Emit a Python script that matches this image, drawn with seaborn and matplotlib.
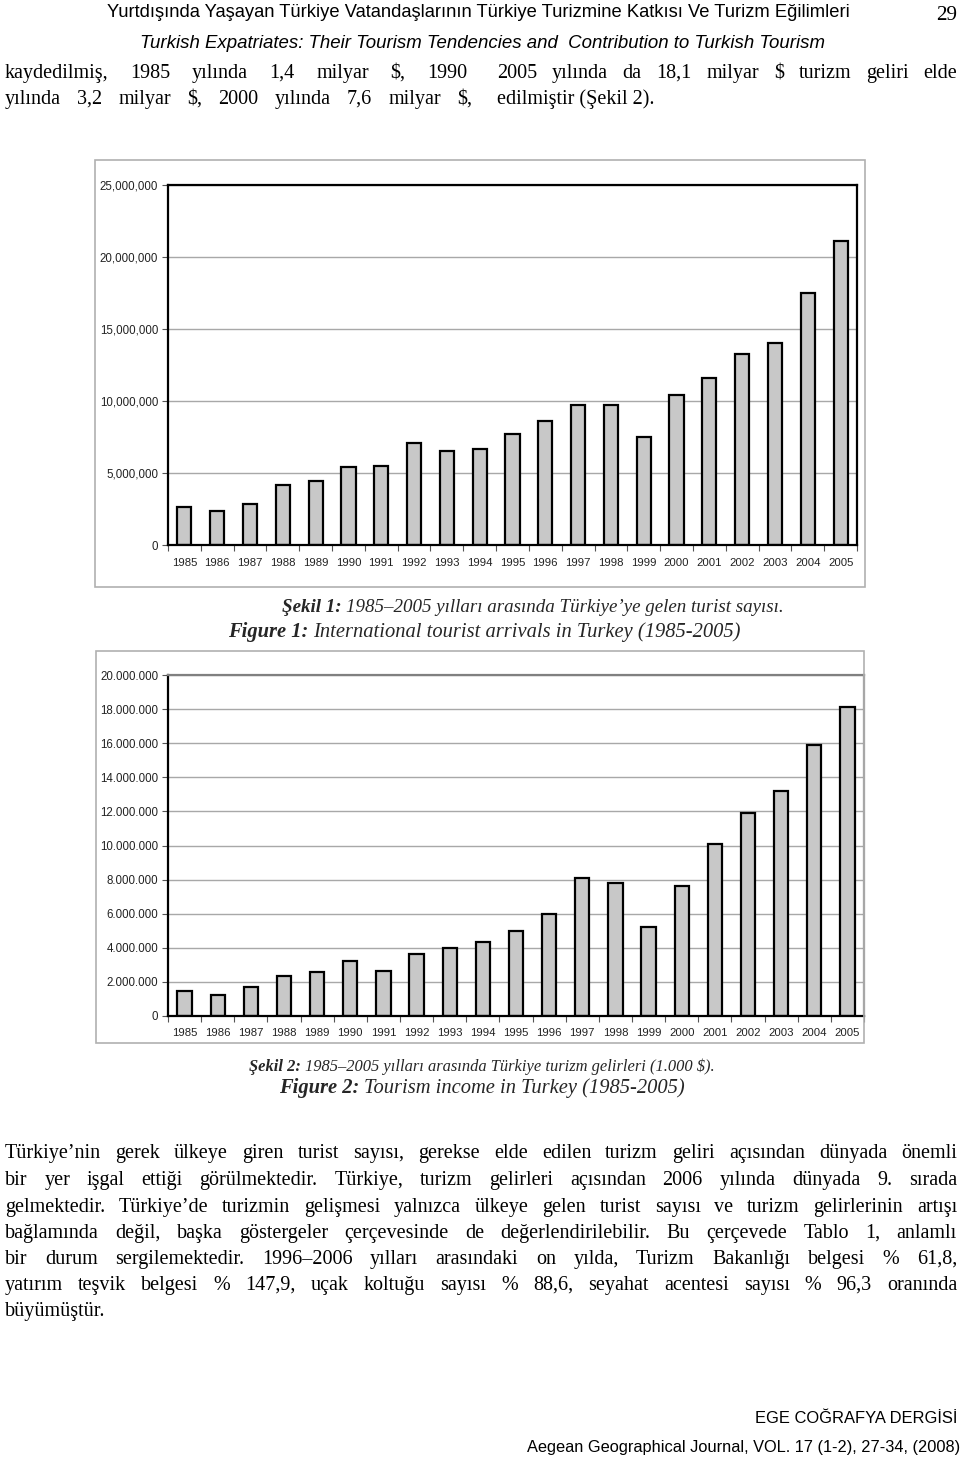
import matplotlib
matplotlib.use("Agg")
import matplotlib.pyplot as plt
import seaborn as sns
import pandas as pd
from matplotlib.patches import Rectangle
from matplotlib.ticker import FuncFormatter, FixedLocator
from matplotlib import font_manager as fm

years = [str(y) for y in range(1985, 2006)]
arrivals = [2620000, 2390000, 2860000, 4170000, 4460000, 5390000, 5520000,
            7080000, 6500000, 6670000, 7730000, 8610000, 9690000, 9750000,
            7490000, 10430000, 11620000, 13260000, 14030000, 17500000, 21120000]
income = [1480000, 1220000, 1720000, 2360000, 2560000, 3220000, 2650000,
          3640000, 3960000, 4320000, 4960000, 5960000, 8090000, 7810000,
          5200000, 7640000, 10070000, 11900000, 13200000, 15890000, 18150000]
yticks1 = [0, 5000000, 10000000, 15000000, 20000000, 25000000]
yticks2 = list(range(0, 20000001, 2000000))

header1 = "Yurtdışında Yaşayan Türkiye Vatandaşlarının Türkiye Turizmine Katkısı Ve Turizm Eğilimleri"
header2 = "Turkish Expatriates: Their Tourism Tendencies and  Contribution to Turkish Tourism"
page_no = "29"
top_left = ["kaydedilmiş, 1985 yılında 1,4 milyar $, 1990",
            "yılında 3,2 milyar $, 2000 yılında 7,6 milyar $,"]
top_right = ["2005 yılında da 18,1 milyar $ turizm geliri elde",
             "edilmiştir (Şekil 2)."]
cap1a, cap1b = "Şekil 1:", "1985–2005 yılları arasında Türkiye’ye gelen turist sayısı."
cap1c, cap1d = "Figure 1:", "International tourist arrivals in Turkey (1985-2005)"
cap2a, cap2b = "Şekil 2:", "1985–2005 yılları arasında Türkiye turizm gelirleri (1.000 $)."
cap2c, cap2d = "Figure 2:", "Tourism income in Turkey (1985-2005)"
para = ["Türkiye’nin gerek ülkeye giren turist sayısı, gerekse elde edilen turizm geliri açısından dünyada önemli",
        "bir yer işgal ettiği görülmektedir. Türkiye, turizm gelirleri açısından 2006 yılında dünyada 9. sırada",
        "gelmektedir. Türkiye’de turizmin gelişmesi yalnızca ülkeye gelen turist sayısı ve turizm gelirlerinin artışı",
        "bağlamında değil, başka göstergeler çerçevesinde de değerlendirilebilir. Bu çerçevede Tablo 1, anlamlı",
        "bir durum sergilemektedir. 1996–2006 yılları arasındaki on yılda, Turizm Bakanlığı belgesi % 61,8,",
        "yatırım teşvik belgesi % 147,9, uçak koltuğu sayısı % 88,6, seyahat acentesi sayısı % 96,3 oranında",
        "büyümüştür."]
footer1 = "EGE COĞRAFYA DERGİSİ"
footer2 = "Aegean Geographical Journal, VOL. 17 (1-2), 27-34, (2008)"

sns.set_theme(style="white")
plt.rcParams["font.family"] = ["Liberation Sans", "DejaVu Sans"]

W, H = 960, 1458
fig = plt.figure(figsize=(W / 100, H / 100), dpi=100)
fig.patch.set_facecolor("white")

names = {f.name for f in fm.fontManager.ttflist}
narrow = "Liberation Sans Narrow" if "Liberation Sans Narrow" in names else "Liberation Sans"
SERIF = ["Liberation Serif", "DejaVu Serif"]


def fx(x):
    return x / W


def fy(y):
    return 1 - y / H


def make_axes(l, r, t, b):
    return fig.add_axes([fx(l), fy(b), fx(r - l), (b - t) / H])


def draw_chart(ax, values, yt, sep, top_color, side_color):
    df = pd.DataFrame({"year": years, "value": values})
    sns.barplot(data=df, x="year", y="value", ax=ax, color="#c8c8c8",
                edgecolor="black", linewidth=1.6, width=0.43, saturation=1)
    ax.set_xlim(-0.5, len(years) - 0.5)
    ax.set_ylim(0, yt[-1])
    ax.set_yticks(yt)
    ax.yaxis.set_major_formatter(FuncFormatter(
        lambda v, p: "0" if v == 0 else f"{int(v):,}".replace(",", sep)))
    ax.set_xlabel("")
    ax.set_ylabel("")
    ax.grid(axis="y", color="#a8a8a8", linewidth=1.0)
    ax.set_axisbelow(True)
    ax.xaxis.set_minor_locator(FixedLocator([i + 0.5 for i in range(-1, len(years))]))
    ax.tick_params(axis="x", which="major", length=0, labelsize=8.2, pad=9, colors="#222222")
    ax.tick_params(axis="x", which="minor", length=4, width=0.8, color="#555555", bottom=True)
    ax.tick_params(axis="y", which="major", length=4, width=0.8, color="#555555",
                   labelsize=8.3, pad=3, left=True, labelcolor="#222222")
    for s in ["left", "bottom"]:
        ax.spines[s].set_color("black")
        ax.spines[s].set_linewidth(1.6)
    ax.spines["top"].set_color(top_color)
    ax.spines["right"].set_color(side_color)
    ax.spines["top"].set_linewidth(1.6)
    ax.spines["right"].set_linewidth(1.6)
    ax.spines["top"].set_visible(True)
    ax.spines["right"].set_visible(True)


# outer frames
fig.patches.append(Rectangle((fx(95), fy(587)), fx(865 - 95), (587 - 160) / H,
                             transform=fig.transFigure, fill=False,
                             edgecolor="#b0b0b0", linewidth=1.2))
fig.patches.append(Rectangle((fx(96), fy(1043)), fx(864 - 96), (1043 - 651) / H,
                             transform=fig.transFigure, fill=False,
                             edgecolor="#b0b0b0", linewidth=1.2))

ax1 = make_axes(168, 857, 185, 545)
draw_chart(ax1, arrivals, yticks1, ",", "black", "black")
ax2 = make_axes(168, 864, 675, 1016)
draw_chart(ax2, income, yticks2, ".", "#808080", "#808080")

fig.canvas.draw()
R = fig.canvas.get_renderer()


def width_of(t):
    return t.get_window_extent(R).width


def fit(s, x0, x1, y, family, style="normal", weight="normal", size=12):
    t = fig.text(fx(x0), fy(y), s, family=family, style=style, weight=weight,
                 fontsize=size, va="baseline", ha="left", color="black")
    w = width_of(t)
    t.set_fontsize(size * (x1 - x0) / w)
    return t


def natural_width(line, size, family):
    words = line.split(" ")
    ts = [fig.text(0, 0, w, family=family, fontsize=size) for w in words]
    ws = sum(width_of(t) for t in ts)
    for t in ts:
        t.remove()
    return ws + (len(words) - 1) * size * 0.25 * 100 / 72


def justify(line, x0, x1, y, size, family):
    words = line.split(" ")
    ts = [fig.text(0, fy(y), w, family=family, fontsize=size, va="baseline",
                   ha="left", color="black") for w in words]
    ws = [width_of(t) for t in ts]
    gap = (x1 - x0 - sum(ws)) / max(len(words) - 1, 1)
    x = x0
    for t, w in zip(ts, ws):
        t.set_x(fx(x))
        x += w + gap


def left(line, x0, y, size, family):
    fig.text(fx(x0), fy(y), line, family=family, fontsize=size, va="baseline",
             ha="left", color="black")


def two_part(a, b, x0, x1, y, size):
    ta = fig.text(fx(x0), fy(y), a, family=SERIF, style="italic", weight="bold",
                  fontsize=size, va="baseline", ha="left")
    tb = fig.text(0, fy(y), b, family=SERIF, style="italic",
                  fontsize=size, va="baseline", ha="left")
    wa, wb = width_of(ta), width_of(tb)
    sp = size * 0.25 * 100 / 72
    k = (x1 - x0) / (wa + wb + sp)
    ta.set_fontsize(size * k)
    tb.set_fontsize(size * k)
    tb.set_x(fx(x0 + (wa + sp) * k))


# header (y values are baselines)
fit(header1, 107, 855, 17, [narrow, "DejaVu Sans"], size=12)
fit(header2, 140, 823, 48, [narrow, "DejaVu Sans"], style="italic", size=12)
fit(page_no, 936, 957, 20, SERIF, size=15)

# body font size: largest size where every justified line fits with normal spaces
jobs = [(top_left[0], 462), (top_left[1], 467), (top_right[0], 460)] + \
       [(l, 952) for l in para[:-1]]
BODY = min(14 * w / natural_width(l, 14, SERIF) for l, w in jobs)
BODY = min(BODY, 14.5)

OFF = 6
justify(top_left[0], 5, 467, 72 + OFF, BODY, SERIF)
justify(top_left[1], 5, 472, 98 + OFF, BODY, SERIF)
justify(top_right[0], 497, 957, 72 + OFF, BODY, SERIF)
left(top_right[1], 497, 98 + OFF, BODY, SERIF)

two_part(cap1a, cap1b, 282, 782, 612, 13)
two_part(cap1c, cap1d, 228, 738, 637, 13)
two_part(cap2a, cap2b, 249, 713, 1071, 13)
two_part(cap2c, cap2d, 279, 684, 1093, 13)

ys = [1152, 1179, 1206, 1232, 1258, 1284, 1310]
for i, (line, y) in enumerate(zip(para, ys)):
    if i < len(para) - 1:
        justify(line, 5, 957, y + OFF, BODY, SERIF)
    else:
        left(line, 5, y + OFF, BODY, SERIF)

fit(footer1, 755, 957, 1423, ["Liberation Sans", "DejaVu Sans"], size=11)
fit(footer2, 527, 957, 1452, ["Liberation Sans", "DejaVu Sans"], size=11)

fig.savefig("out.png", dpi=100, facecolor="white")
